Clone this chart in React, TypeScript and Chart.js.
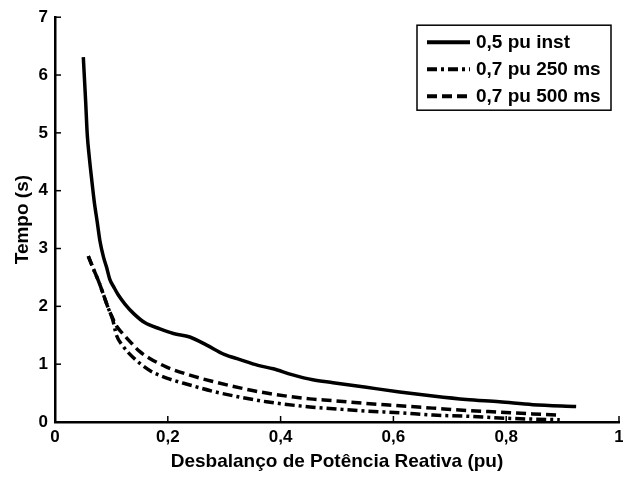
import React, { useEffect, useRef } from "react";
import { Chart, registerables } from "chart.js";

Chart.register(...registerables);

// 0,5 pu inst (solid)
const xInst = [0.0502, 0.0544, 0.0572, 0.0607, 0.0650, 0.0696, 0.0750, 0.0797, 0.0860, 0.0916, 0.0970, 0.1050, 0.1120, 0.1240, 0.1400, 0.1590, 0.1860, 0.2100, 0.2390, 0.2690, 0.3000, 0.3280, 0.3600, 0.3870, 0.4200, 0.4570, 0.4930, 0.5520, 0.6110, 0.6700, 0.7290, 0.7880, 0.8470, 0.9240];
const yInst = [6.31, 5.53, 4.97, 4.59, 4.20, 3.81, 3.45, 3.13, 2.85, 2.67, 2.47, 2.32, 2.20, 2.04, 1.87, 1.72, 1.61, 1.53, 1.47, 1.33, 1.17, 1.08, 0.98, 0.92, 0.82, 0.73, 0.68, 0.60, 0.52, 0.45, 0.39, 0.35, 0.30, 0.27];

// 0,7 pu 250 ms (dash-dot)
const x250 = [0.059, 0.068, 0.077, 0.086, 0.094, 0.102, 0.109, 0.120, 0.130, 0.151, 0.168, 0.198, 0.239, 0.280, 0.328, 0.375, 0.452, 0.493, 0.552, 0.611, 0.670, 0.729, 0.788, 0.847, 0.895];
const y250 = [2.87, 2.65, 2.44, 2.20, 1.98, 1.78, 1.50, 1.32, 1.20, 1.01, 0.89, 0.76, 0.64, 0.53, 0.43, 0.35, 0.26, 0.23, 0.19, 0.16, 0.12, 0.10, 0.07, 0.05, 0.04];

// 0,7 pu 500 ms (dashed)
const x500 = [0.059, 0.068, 0.077, 0.086, 0.094, 0.102, 0.109, 0.120, 0.133, 0.150, 0.168, 0.198, 0.239, 0.280, 0.328, 0.375, 0.452, 0.493, 0.552, 0.611, 0.670, 0.729, 0.788, 0.847, 0.895];
const y500 = [2.87, 2.65, 2.44, 2.20, 1.98, 1.80, 1.66, 1.53, 1.39, 1.22, 1.10, 0.95, 0.81, 0.70, 0.59, 0.50, 0.40, 0.37, 0.32, 0.28, 0.24, 0.20, 0.17, 0.14, 0.12];

const seriesLabels = ["0,5 pu inst", "0,7 pu 250 ms", "0,7 pu 500 ms"];
const seriesDashes: number[][] = [[], [10, 4, 3, 4], [10, 5]];

const xTitle = "Desbalanço de Potência Reativa (pu)";
const yTitle = "Tempo (s)";

const FONT = "'Liberation Sans', Arial, sans-serif";

const pts = (xs: number[], ys: number[]) => xs.map((x, i) => ({ x, y: ys[i] }));

const fmtX = (v: number) => {
  const r = Math.round(v * 10) / 10;
  return String(r).replace(".", ",");
};

const innerTicks = {
  id: "innerTicks",
  afterDraw(chart: any) {
    const { ctx, chartArea, scales } = chart;
    ctx.save();
    ctx.strokeStyle = "#000";
    ctx.lineWidth = 1.5;
    const len = 6;
    scales.x.ticks.forEach((t: any) => {
      const px = scales.x.getPixelForValue(t.value);
      ctx.beginPath();
      ctx.moveTo(px, chartArea.bottom);
      ctx.lineTo(px, chartArea.bottom - len);
      ctx.stroke();
    });
    scales.y.ticks.forEach((t: any) => {
      const py = scales.y.getPixelForValue(t.value);
      ctx.beginPath();
      ctx.moveTo(chartArea.left, py);
      ctx.lineTo(chartArea.left + len, py);
      ctx.stroke();
    });
    ctx.restore();
  },
};

const boxLegend = {
  id: "boxLegend",
  afterDraw(chart: any) {
    const { ctx, chartArea } = chart;
    const w = 194;
    const h = 85;
    const right = chartArea.right - 8;
    const left = right - w;
    const top = chartArea.top + 8;
    ctx.save();
    ctx.fillStyle = "#fff";
    ctx.fillRect(left, top, w, h);
    ctx.strokeStyle = "#000";
    ctx.lineWidth = 1.5;
    ctx.setLineDash([]);
    ctx.strokeRect(left, top, w, h);
    ctx.font = `bold 19px ${FONT}`;
    ctx.textBaseline = "middle";
    ctx.fillStyle = "#000";
    seriesLabels.forEach((lab, i) => {
      const cy = top + 17 + i * 27;
      ctx.beginPath();
      ctx.setLineDash(seriesDashes[i]);
      ctx.lineWidth = 4;
      ctx.moveTo(left + 10, cy);
      ctx.lineTo(left + 53, cy);
      ctx.stroke();
      ctx.setLineDash([]);
      ctx.fillText(lab, left + 59, cy + 1);
    });
    ctx.restore();
  },
};

export default function App() {
  const ref = useRef<HTMLCanvasElement | null>(null);
  useEffect(() => {
    if (!ref.current) return;
    const mk = (i: number, data: any[]) => ({
      label: seriesLabels[i],
      data,
      borderColor: "#000",
      backgroundColor: "#000",
      borderWidth: 3.5,
      borderDash: seriesDashes[i],
      borderCapStyle: "butt" as const,
      pointRadius: 0,
      fill: false,
      showLine: true,
      cubicInterpolationMode: "monotone" as const,
    });
    const chart = new Chart(ref.current, {
      type: "line",
      data: {
        datasets: [mk(0, pts(xInst, yInst)), mk(1, pts(x250, y250)), mk(2, pts(x500, y500))],
      },
      options: {
        animation: false,
        responsive: true,
        maintainAspectRatio: false,
        layout: { padding: { left: 0, right: 4, top: 14, bottom: 0 } },
        plugins: { legend: { display: false }, tooltip: { enabled: false } },
        scales: {
          x: {
            type: "linear",
            min: 0,
            max: 1,
            afterFit: (s: any) => {
              s.height = 55;
              s.paddingRight = 0;
              s.paddingLeft = 0;
            },
            grid: { display: true, drawOnChartArea: false, drawTicks: false },
            border: { display: true, color: "#000", width: 2.5 },
            ticks: {
              stepSize: 0.2,
              padding: 5,
              color: "#000",
              font: { family: FONT, size: 17, weight: "bold" },
              callback: (v: any) => fmtX(Number(v)),
              maxRotation: 0,
            },
            title: {
              display: true,
              text: xTitle,
              color: "#000",
              font: { family: FONT, size: 19, weight: "bold" },
              padding: { top: 0, bottom: 4 },
            },
          },
          y: {
            type: "linear",
            min: 0,
            max: 7,
            afterFit: (s: any) => {
              s.width = 55;
            },
            grid: { display: true, drawOnChartArea: false, drawTicks: false },
            border: { display: true, color: "#000", width: 2.5 },
            ticks: {
              stepSize: 1,
              padding: 7,
              color: "#000",
              font: { family: FONT, size: 17, weight: "bold" },
            },
            title: {
              display: true,
              text: yTitle,
              color: "#000",
              font: { family: FONT, size: 19, weight: "bold" },
              padding: { top: 11, bottom: 0 },
            },
          },
        },
      },
      plugins: [innerTicks, boxLegend],
    });
    return () => chart.destroy();
  }, []);
  return (
    <div style={{ position: "fixed", left: 0, top: 0, width: 623, height: 477, background: "#fff" }}>
      <canvas ref={ref} />
    </div>
  );
}
